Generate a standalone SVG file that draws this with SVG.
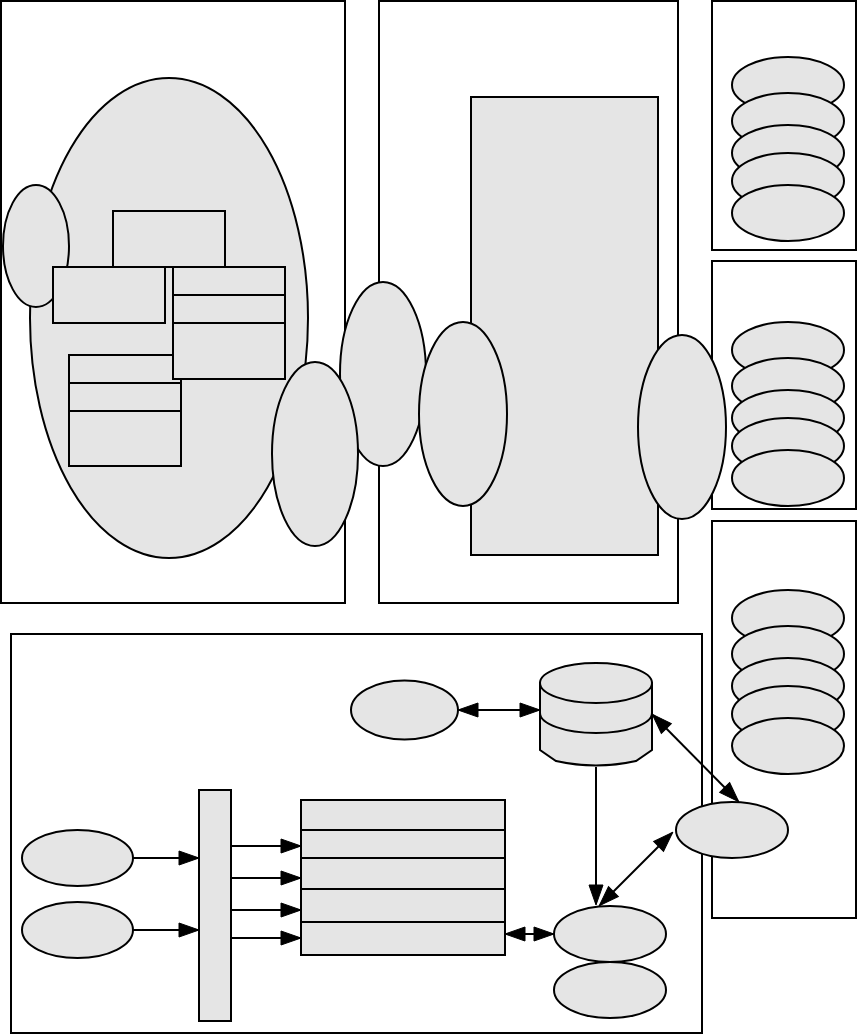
<svg xmlns="http://www.w3.org/2000/svg" width="857" height="1035" viewBox="0 0 857 1035">
<style>
.box{fill:#ffffff;stroke:#000;stroke-width:2}
.g{fill:#e5e5e5;stroke:#000;stroke-width:2}
.ln{fill:none;stroke:#000;stroke-width:2}
.c{fill:none;stroke:#000;stroke-width:2}
</style>
<defs>
<marker id="ah" viewBox="-1 -1 22 16" refX="19" refY="7" markerWidth="22" markerHeight="16" markerUnits="userSpaceOnUse" orient="auto-start-reverse">
<path d="M0,0 L20,7 L0,14 Z" fill="#000" stroke="#000" stroke-width="1" stroke-linejoin="miter"/>
</marker>
</defs>
<rect width="857" height="1035" fill="#fff"/>

<g id="frame-left"><rect class="box" x="1" y="1" width="344" height="602"/></g>
<g id="frame-mid"><rect class="box" x="379" y="1" width="299" height="602"/></g>
<g id="frame-rt"><rect class="box" x="712" y="1" width="144" height="249"/></g>
<g id="frame-rm"><rect class="box" x="712" y="261" width="144" height="248"/></g>
<g id="frame-rb"><rect class="box" x="712" y="521" width="144" height="397"/></g>
<g id="frame-bottom"><rect class="box" x="11" y="634" width="691" height="399"/></g>

<g id="big-ellipse"><ellipse class="g" cx="169" cy="318" rx="139" ry="240"/></g>
<g id="small-ellipse"><ellipse class="g" cx="36" cy="246" rx="33" ry="61"/></g>
<g id="rect-top"><rect class="g" x="113" y="211" width="112" height="56"/></g>
<g id="rect-left"><rect class="g" x="53" y="267" width="112" height="56"/></g>
<g id="rect-bl"><rect class="g" x="69" y="355" width="112" height="111"/><path class="ln" d="M69,383 H181 M69,411 H181"/></g>
<g id="rect-right"><rect class="g" x="173" y="267" width="112" height="112"/><path class="ln" d="M173,295 H285 M173,323 H285"/></g>

<g id="ellipse-a"><ellipse class="g" cx="383" cy="374" rx="43" ry="92"/></g>
<g id="ellipse-l"><ellipse class="g" cx="315" cy="454" rx="43" ry="92"/></g>
<g id="inner-rect"><rect class="g" x="471" y="97" width="187" height="458"/></g>
<g id="ellipse-b"><ellipse class="g" cx="463" cy="414" rx="44" ry="92"/></g>
<g id="ellipse-c"><ellipse class="g" cx="682" cy="427" rx="44" ry="92"/></g>

<g id="stack-top">
<ellipse class="g" cx="788" cy="85" rx="56" ry="28"/>
<ellipse class="g" cx="788" cy="121" rx="56" ry="28"/>
<ellipse class="g" cx="788" cy="153" rx="56" ry="28"/>
<ellipse class="g" cx="788" cy="181" rx="56" ry="28"/>
<ellipse class="g" cx="788" cy="213" rx="56" ry="28"/>
</g>
<g id="stack-mid">
<ellipse class="g" cx="788" cy="350" rx="56" ry="28"/>
<ellipse class="g" cx="788" cy="386" rx="56" ry="28"/>
<ellipse class="g" cx="788" cy="418" rx="56" ry="28"/>
<ellipse class="g" cx="788" cy="446" rx="56" ry="28"/>
<ellipse class="g" cx="788" cy="478" rx="56" ry="28"/>
</g>
<g id="stack-bottom">
<ellipse class="g" cx="788" cy="618" rx="56" ry="28"/>
<ellipse class="g" cx="788" cy="654" rx="56" ry="28"/>
<ellipse class="g" cx="788" cy="686" rx="56" ry="28"/>
<ellipse class="g" cx="788" cy="714" rx="56" ry="28"/>
<ellipse class="g" cx="788" cy="746" rx="56" ry="28"/>
</g>

<g id="node-top-ellipse"><ellipse class="g" cx="404.5" cy="710" rx="53.5" ry="29.5"/></g>
<g id="cylinder">
<path class="g" d="M540,683 V750 L556,761 Q596,770 636,761 L652,750 V683 Z"/>
<path class="ln" d="M540,713 A56,20 0 0 0 652,713"/>
<ellipse class="g" cx="596" cy="683" rx="56" ry="20"/>
</g>
<g id="in-ellipse-1"><ellipse class="g" cx="77.5" cy="858" rx="55.5" ry="28"/></g>
<g id="in-ellipse-2"><ellipse class="g" cx="77.5" cy="930" rx="55.5" ry="28"/></g>
<g id="bar"><rect class="g" x="199" y="790" width="32" height="231"/></g>
<g id="stacked-rect"><rect class="g" x="301" y="800" width="204" height="155"/><path class="ln" d="M301,830 H505 M301,858 H505 M301,889 H505 M301,922 H505"/></g>
<g id="node-br1"><ellipse class="g" cx="610" cy="934" rx="56" ry="28"/></g>
<g id="node-br2"><ellipse class="g" cx="610" cy="990" rx="56" ry="28"/></g>
<g id="node-right"><ellipse class="g" cx="732" cy="830" rx="56" ry="28"/></g>

<g id="connectors">
<line class="c" x1="459" y1="710" x2="539" y2="710" marker-start="url(#ah)" marker-end="url(#ah)"/>
<line class="c" x1="133" y1="858" x2="198" y2="858" marker-end="url(#ah)"/>
<line class="c" x1="133" y1="930" x2="198" y2="930" marker-end="url(#ah)"/>
<line class="c" x1="231" y1="846" x2="300" y2="846" marker-end="url(#ah)"/>
<line class="c" x1="231" y1="878" x2="300" y2="878" marker-end="url(#ah)"/>
<line class="c" x1="231" y1="910" x2="300" y2="910" marker-end="url(#ah)"/>
<line class="c" x1="231" y1="938" x2="300" y2="938" marker-end="url(#ah)"/>
<line class="c" x1="506" y1="934" x2="553" y2="934" marker-start="url(#ah)" marker-end="url(#ah)"/>
<line class="c" x1="596" y1="767" x2="596" y2="904" stroke-width="1.3" marker-end="url(#ah)"/>
<line class="c" x1="653" y1="715" x2="738" y2="801" marker-start="url(#ah)" marker-end="url(#ah)"/>
<line class="c" x1="672" y1="833" x2="600" y2="905" marker-start="url(#ah)" marker-end="url(#ah)"/>
</g>
</svg>
